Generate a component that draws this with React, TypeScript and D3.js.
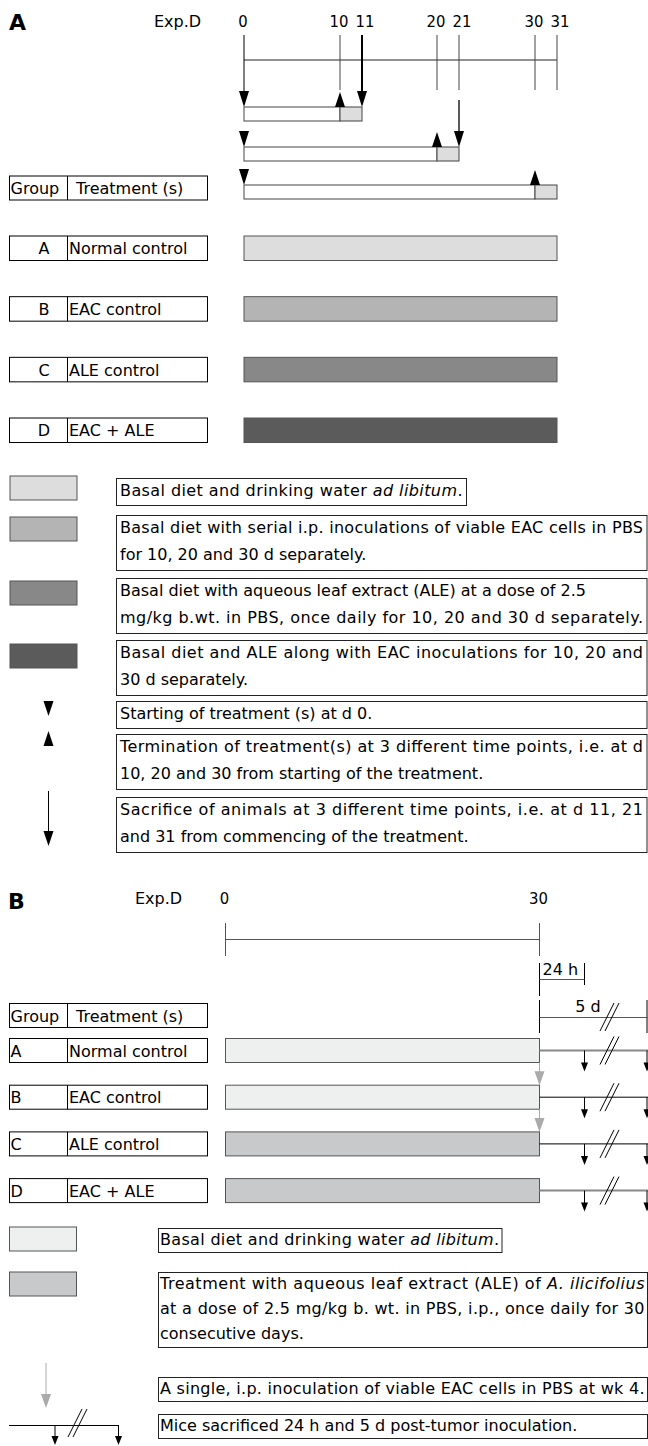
import React, { useEffect, useRef } from 'react';
import * as d3 from 'd3';

// panel A: experiment days and the three treatment schedules
const daysA = [0, 10, 11, 20, 21, 30, 31];
const scheduleStart = [0, 0, 0];
const scheduleStop = [10, 20, 30];
const scheduleSacrifice = [11, 21, 31];

const groupCodes = ['A', 'B', 'C', 'D'];
const treatments = ['Normal control', 'EAC control', 'ALE control', 'EAC + ALE'];

// panel B: 30 d treatment, then sacrifice 24 h (d 31) and 5 d (d 35) after inoculation
const daysB = [0, 30];
const sacrificeB = [31, 35];
const sacrificeLabels = ['24 h', '5 d'];

const legendA = [
  ['Basal diet and drinking water *ad libitum*.'],
  ['Basal diet with serial i.p. inoculations of viable EAC cells in PBS', 'for 10, 20 and 30 d separately.'],
  ['Basal diet with aqueous leaf extract (ALE) at a dose of 2.5', 'mg/kg b.wt. in PBS, once daily for 10, 20 and 30 d separately.'],
  ['Basal diet and ALE along with EAC inoculations for 10, 20 and', '30 d separately.'],
  ['Starting of treatment (s) at d 0.'],
  ['Termination of treatment(s) at 3 different time points, i.e. at d', '10, 20 and 30 from starting of the treatment.'],
  ['Sacrifice of animals at 3 different time points, i.e. at d 11, 21', 'and 31 from commencing of the treatment.'],
];

const legendB = [
  ['Basal diet and drinking water *ad libitum*.'],
  ['Treatment with aqueous leaf extract (ALE) of *A. ilicifolius*', 'at a dose of 2.5 mg/kg b. wt. in PBS, i.p., once daily for 30', 'consecutive days.'],
  ['A single, i.p. inoculation of viable EAC cells in PBS at wk 4.'],
  ['Mice sacrificed 24 h and 5 d post-tumor inoculation.'],
];

const fillA = ['#dcdddc', '#b4b4b4', '#888888', '#5b5b5b'];
const fillB = ['#eef0ef', '#eef0ef', '#c8c9ca', '#c8c9ca'];
const FONT = '"DejaVu Sans", Verdana, sans-serif';
const NUM_FONT = '"DejaVu Sans Condensed", "DejaVu Sans", sans-serif';

const tri = (x: number, y: number, w: number, h: number, up = false) =>
  up
    ? `M${x},${y}L${x - w / 2},${y + h}L${x + w / 2},${y + h}Z`
    : `M${x},${y}L${x - w / 2},${y - h}L${x + w / 2},${y - h}Z`;

const rich = (s: string) =>
  s.split('*').map((p, i) => (
    <tspan key={i} fontStyle={i % 2 ? 'italic' : 'normal'}>{p}</tspan>
  ));

const Slash = ({ x, y }: { x: number; y: number }) => (
  <g stroke="#000" strokeWidth={1}>
    <line x1={x - 9} y1={y + 14} x2={x + 5} y2={y - 14} />
    <line x1={x - 4} y1={y + 14} x2={x + 10} y2={y - 14} />
  </g>
);

const GroupTable = ({ header, tops, h, codeX, anchor }: any) => (
  <g fontSize={16}>
    <rect x={9.5} y={header} width={198} height={24} fill="#fff" stroke="#000" />
    <line x1={67.5} x2={67.5} y1={header} y2={header + 24} stroke="#000" />
    <text x={10.5} y={header + 18}>Group</text>
    <text x={76} y={header + 18}>Treatment (s)</text>
    {groupCodes.map((c, i) => (
      <g key={c}>
        <rect x={9.5} y={tops[i]} width={198} height={h} fill="#fff" stroke="#000" />
        <line x1={67.5} x2={67.5} y1={tops[i]} y2={tops[i] + h} stroke="#000" />
        <text x={codeX} y={tops[i] + h / 2 + 6} textAnchor={anchor}>{c}</text>
        <text x={69} y={tops[i] + h / 2 + 6}>{treatments[i]}</text>
      </g>
    ))}
  </g>
);

export default function App() {
  const ref = useRef<SVGSVGElement>(null);

  // justify long legend lines to the width of their box
  useEffect(() => {
    d3.select(ref.current)
      .selectAll<SVGTextElement, unknown>('text.fit')
      .each(function () {
        const avail = +(this.getAttribute('data-avail') || 0);
        const len = this.getComputedTextLength();
        if (len > avail * 0.9) {
          d3.select(this).attr('textLength', avail).attr('lengthAdjust', 'spacing');
        }
      });
  }, []);

  const xA = d3.scaleLinear().domain(daysA).range([244, 340, 362, 437, 459, 535, 557]);
  const xB = d3.scaleLinear().domain([0, 30, 31, 35]).range([225.5, 539.5, 584.5, 647]);

  const axisY = 60;
  const tickTop = 35;
  const rowTopA = [107, 147, 185];
  const rowH = 14;
  const sacFrom = [tickTop, 100, null];

  const groupTopA = groupCodes.map((_, i) => 236 + i * 60.67);
  const groupTopB = groupCodes.map((_, i) => 1038.5 + i * 46.7);

  const legATop = [478, 515, 578, 640, 701, 734, 797];
  const swatchATop = [476, 517, 581, 644];
  const legBTop = [1228, 1272, 1377, 1414];
  const swatchBTop = [1227, 1272];

  return (
    <svg
      ref={ref}
      width={648}
      height={1446}
      style={{ position: 'absolute', left: 0, top: 0 }}
      fontFamily={FONT}
      fontSize={16}
    >
      <rect width={648} height={1446} fill="#fff" />

      {/* ---------- Panel A ---------- */}
      <text x={9} y={30} fontSize={22} fontWeight={900}>A</text>
      <text x={154} y={27}>Exp.D</text>
      {daysA.map((d) => (
        <text
          key={d}
          x={xA(d) + (d % 10 === 1 ? 3 : d === 0 ? -1 : -1)}
          y={27}
          textAnchor="middle"
          fontFamily={NUM_FONT}
          fontSize={16.5}
        >
          {d}
        </text>
      ))}
      <line x1={xA(0)} x2={xA(31)} y1={axisY} y2={axisY} stroke="#222" />
      {daysA
        .filter((d) => d !== 0 && d !== 11)
        .map((d) => (
          <line key={d} x1={xA(d)} x2={xA(d)} y1={tickTop} y2={90} stroke="#444" />
        ))}

      {scheduleStop.map((stop, i) => {
        const y = rowTopA[i];
        const s = scheduleStart[i];
        const sac = scheduleSacrifice[i];
        const from = sacFrom[i];
        return (
          <g key={i}>
            <rect x={xA(s)} y={y} width={xA(stop) - xA(s)} height={rowH} fill="#fff" stroke="#444" />
            <rect x={xA(stop)} y={y} width={xA(sac) - xA(stop)} height={rowH} fill={fillA[0]} stroke="#444" />
            {i === 0 && <line x1={xA(s)} x2={xA(s)} y1={tickTop} y2={y - 10} stroke="#000" />}
            <path d={tri(xA(s), y, 10, 16)} fill="#000" />
            <path d={tri(xA(stop), y - 15, 10, 15, true)} fill="#000" />
            {from !== null && (
              <g>
                <line x1={xA(sac)} x2={xA(sac)} y1={from} y2={y - 10} stroke="#000" strokeWidth={i === 0 ? 2 : 1.3} />
                <path d={tri(xA(sac), y, 10, 16)} fill="#000" />
              </g>
            )}
          </g>
        );
      })}

      <GroupTable header={176} tops={groupTopA} h={24.5} codeX={44} anchor="middle" />
      {groupCodes.map((c, i) => (
        <rect key={c} x={xA(0)} y={groupTopA[i]} width={xA(31) - xA(0)} height={24.5} fill={fillA[i]} stroke="#555" />
      ))}

      {/* legend A */}
      {swatchATop.map((y, i) => (
        <rect key={i} x={10} y={y} width={67} height={24} fill={fillA[i]} stroke="#555" />
      ))}
      <path d={tri(48.5, 716, 10, 15)} fill="#000" />
      <path d={tri(48.5, 731, 10, 15, true)} fill="#000" />
      <line x1={48.5} x2={48.5} y1={791} y2={835} stroke="#000" />
      <path d={tri(48.5, 846, 10, 15)} fill="#000" />
      {legendA.map((lines, i) => {
        const top = legATop[i];
        const right = i === 0 ? 466.5 : 647;
        const h = lines.length === 1 ? 27 : 55;
        return (
          <g key={i}>
            <rect x={116.5} y={top + 0.5} width={right - 116.5} height={h} fill="#fff" stroke="#222" />
            {lines.map((ln, j) => (
              <text key={j} className="fit" data-avail={right - 124} x={120} y={top + 18 + j * 27}>
                {rich(ln)}
              </text>
            ))}
          </g>
        );
      })}

      {/* ---------- Panel B ---------- */}
      <text x={8} y={909} fontSize={22} fontWeight={900}>B</text>
      <text x={135} y={904}>Exp.D</text>
      {daysB.map((d) => (
        <text key={d} x={xB(d) - 1} y={904} textAnchor="middle" fontFamily={NUM_FONT} fontSize={16.5}>{d}</text>
      ))}
      <line x1={xB(0)} x2={xB(30)} y1={939.5} y2={939.5} stroke="#555" />
      {daysB.map((d) => (
        <line key={d} x1={xB(d)} x2={xB(d)} y1={923} y2={956} stroke="#555" />
      ))}

      {/* 24 h and 5 d brackets */}
      <g stroke="#000">
        <line x1={xB(30)} x2={xB(30)} y1={963} y2={996} />
        <line x1={xB(31)} x2={xB(31)} y1={963} y2={985} />
        <line x1={xB(30)} x2={xB(31)} y1={979.5} y2={979.5} stroke="#555" />
        <line x1={xB(30)} x2={xB(30)} y1={1000} y2={1033} />
        <line x1={xB(35)} x2={xB(35)} y1={1000} y2={1033} />
        <line x1={xB(30)} x2={648} y1={1017.5} y2={1017.5} stroke="#555" />
      </g>
      <text x={xB(30) + 3} y={975}>{sacrificeLabels[0]}</text>
      <text x={588} y={1012} textAnchor="middle">{sacrificeLabels[1]}</text>
      <Slash x={609} y={1017} />

      <GroupTable header={1003.5} tops={groupTopB} h={24} codeX={10.5} anchor="start" />
      {groupCodes.map((c, i) => {
        const y = groupTopB[i];
        const yc = y + 12;
        const lineC = i === 0 || i === 3 ? '#888' : '#000';
        return (
          <g key={c}>
            <rect x={xB(0)} y={y} width={xB(30) - xB(0)} height={24} fill={fillB[i]} stroke="#555" />
            <line x1={xB(30)} x2={648} y1={yc} y2={yc} stroke={lineC} strokeWidth={lineC === '#888' ? 2 : 1} />
            {sacrificeB.map((d) => (
              <g key={d}>
                <line x1={xB(d)} x2={xB(d)} y1={yc} y2={yc + 14} stroke="#000" />
                <path d={tri(xB(d), yc + 21, 7, 9)} fill="#000" />
              </g>
            ))}
            <Slash x={609} y={yc} />
            {i < 2 && (
              <g>
                <line x1={xB(30)} x2={xB(30)} y1={y + 24} y2={groupTopB[i + 1] - 10} stroke="#aaa" />
                <path d={tri(xB(30), groupTopB[i + 1], 10, 14)} fill="#aaa" />
              </g>
            )}
          </g>
        );
      })}

      {/* legend B */}
      {swatchBTop.map((y, i) => (
        <rect key={i} x={9.5} y={y} width={67} height={24} fill={fillB[i * 2]} stroke="#555" />
      ))}
      <line x1={46} x2={46} y1={1363} y2={1396} stroke="#aaa" />
      <path d={tri(46, 1408, 10, 14)} fill="#aaa" />
      <line x1={9} x2={118.5} y1={1425.5} y2={1425.5} stroke="#000" />
      {[55, 118.5].map((x) => (
        <g key={x}>
          <line x1={x} x2={x} y1={1425} y2={1438} stroke="#000" />
          <path d={tri(x, 1445, 7, 9)} fill="#000" />
        </g>
      ))}
      <Slash x={77} y={1423} />
      {legendB.map((lines, i) => {
        const top = legBTop[i];
        const right = i === 0 ? 502 : 647.5;
        const h = lines.length === 1 ? 24 : 75;
        return (
          <g key={i}>
            <rect x={158.5} y={top + 0.5} width={right - 158.5} height={h} fill="#fff" stroke="#222" />
            {lines.map((ln, j) => (
              <text key={j} className="fit" data-avail={right - 163} x={160} y={top + 17 + j * 25}>
                {rich(ln)}
              </text>
            ))}
          </g>
        );
      })}
    </svg>
  );
}
